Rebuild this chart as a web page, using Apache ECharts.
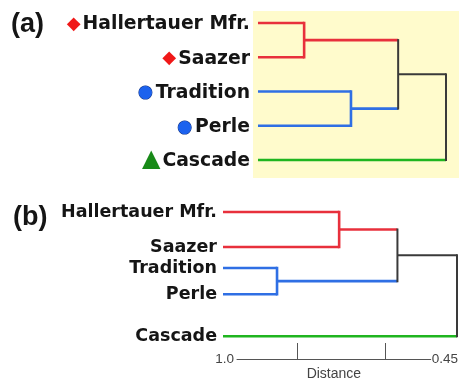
<!DOCTYPE html>
<html>
<head>
<meta charset="utf-8">
<script src="https://cdn.jsdelivr.net/npm/echarts@6/dist/echarts.min.js"></script>
<style>
  html, body { margin: 0; padding: 0; background: #ffffff; }
  #chart { width: 459px; height: 383px; }
</style>
</head>
<body>
<div id="chart"></div>
<script>
// Hop cultivars, in dendrogram leaf order (top to bottom)
const cultivars = ['Hallertauer Mfr.', 'Saazer', 'Tradition', 'Perle', 'Cascade'];
// Group of each cultivar (drives branch colour and marker shape)
const groups = ['aroma', 'aroma', 'german', 'german', 'american'];

// Vertical position of each leaf row, per panel
const rowsA = [0, 1, 2, 3, 4];
const rowsB = [0, 1, 1.6, 2.35, 3.55];

// Distance at which the leaves sit
const leafDistance = 1.0;
// Merges: [node a, node b, distance]; nodes 0-4 are leaves, 5+ are merged clusters in order
const mergesA = [[0, 1, 0.865], [2, 3, 0.728], [5, 6, 0.59], [7, 4, 0.45]];
const mergesB = [[0, 1, 0.727], [2, 3, 0.873], [5, 6, 0.59], [7, 4, 0.45]];

// Distance scale bar under panel (b)
const scaleEnds = [1.0, 0.45];
const scaleTicks = [0.83, 0.58];

const groupColor = { aroma: '#e8303c', german: '#2f6fe4', american: '#1fb51f' };
const mixedColor = '#3a3a3a';
const groupGlyph = { aroma: '\u25C6', german: '\u25CF', american: '\u25B2' };

function buildSegments(rows, merges) {
  const nodes = rows.map((y, i) => ({ d: leafDistance, y: y, color: groupColor[groups[i]] }));
  const segs = [];
  merges.forEach(([a, b, d]) => {
    const A = nodes[a], B = nodes[b];
    const color = A.color === B.color ? A.color : mixedColor;
    segs.push({ color: A.color, vertical: false, pts: [[A.d, A.y], [d, A.y]] });
    segs.push({ color: B.color, vertical: false, pts: [[B.d, B.y], [d, B.y]] });
    segs.push({ color: color, vertical: true, pts: [[d, A.y], [d, B.y]] });
    nodes.push({ d: d, y: (A.y + B.y) / 2, color: color });
  });
  // horizontals first, verticals on top so the corners close
  return segs.filter(s => !s.vertical).concat(segs.filter(s => s.vertical));
}

function toSeries(segs, axisIndex) {
  return segs.map(s => ({
    type: 'line',
    xAxisIndex: axisIndex,
    yAxisIndex: axisIndex,
    data: s.pts,
    symbol: 'none',
    silent: true,
    animation: false,
    lineStyle: {
      color: s.color,
      width: s.color === mixedColor ? 2 : 2.6,
      cap: s.vertical ? 'square' : 'butt'
    }
  }));
}

function rowIndex(rows, value) {
  return rows.findIndex(r => Math.abs(r - value) < 1e-6);
}

const labelFont = 'DejaVu Sans';
const richA = {
  t: { fontFamily: labelFont, fontWeight: 'bold', fontSize: 18.8, color: '#151515', padding: [3, 0, 0, 0] },
  aroma: { fontFamily: labelFont, fontSize: 18, color: '#f01818', padding: [3, 2, 0, 0] },
  german: { fontFamily: labelFont, fontSize: 17, color: '#1c62ee', textBorderColor: '#0d2f80', textBorderWidth: 1, padding: [3, 3, 0, 0] },
  american: { fontFamily: labelFont, fontSize: 24, color: '#188a18', padding: [0, 2, 0, 0] }
};

const chart = echarts.init(document.getElementById('chart'), null, { renderer: 'canvas' });

const hiddenAxis = {
  axisLine: { show: false }, axisTick: { show: false },
  axisLabel: { show: false }, splitLine: { show: false }
};

chart.setOption({
  animation: false,
  backgroundColor: '#ffffff',
  title: [
    { text: '(a)', left: 6, top: 6, textStyle: { fontFamily: 'Liberation Sans', fontWeight: 'bold', fontSize: 27, color: '#151515' } },
    { text: '(b)', left: 8, top: 199, textStyle: { fontFamily: 'Liberation Sans', fontWeight: 'bold', fontSize: 27, color: '#151515' } }
  ],
  grid: [
    { left: 253, top: 11, width: 206, height: 167, show: true, backgroundColor: '#fffbcc', borderWidth: 0 },
    { left: 223, top: 194.5, width: 234, height: 157.5 },
    { left: 237, top: 349, width: 196, height: 10 }
  ],
  xAxis: [
    Object.assign({ gridIndex: 0, type: 'value', min: 0.412, max: 1.0146, inverse: true }, hiddenAxis),
    Object.assign({ gridIndex: 1, type: 'value', min: 0.45, max: 1.0, inverse: true }, hiddenAxis),
    {
      gridIndex: 2, type: 'value', min: scaleEnds[1], max: scaleEnds[0], inverse: true,
      axisLine: { show: true, lineStyle: { color: '#555555', width: 1 } },
      axisTick: { show: true, inside: true, length: 16, customValues: scaleTicks, lineStyle: { color: '#555555', width: 1 } },
      axisLabel: { show: false }, splitLine: { show: false },
      name: 'Distance', nameLocation: 'middle', nameGap: 8,
      nameTextStyle: { fontFamily: 'Liberation Sans', fontSize: 14, color: '#444444' }
    },
    Object.assign({
      gridIndex: 2, type: 'value', min: 0, max: 1, position: 'bottom', offset: 0,
      name: String(scaleEnds[0].toFixed(1)), nameLocation: 'start', nameGap: 3,
      nameTextStyle: { fontFamily: 'Liberation Sans', fontSize: 13.5, color: '#444444' }
    }, hiddenAxis),
    Object.assign({
      gridIndex: 2, type: 'value', min: 0, max: 1, position: 'bottom', offset: 0,
      name: String(scaleEnds[1]), nameLocation: 'end', nameGap: 1,
      nameTextStyle: { fontFamily: 'Liberation Sans', fontSize: 13.5, color: '#444444' }
    }, hiddenAxis)
  ],
  yAxis: [
    {
      gridIndex: 0, type: 'value', min: -0.35, max: 4.526, inverse: true,
      axisLine: { show: false }, axisTick: { show: false }, splitLine: { show: false },
      axisLabel: {
        show: true, margin: 3, customValues: rowsA,
        formatter: v => {
          const i = rowIndex(rowsA, v);
          if (i < 0) return '';
          const g = groups[i];
          return '{' + g + '|' + groupGlyph[g] + '}{t|' + cultivars[i] + '}';
        },
        rich: richA
      }
    },
    {
      gridIndex: 1, type: 'value', min: -0.5, max: 4.0, inverse: true,
      axisLine: { show: false }, axisTick: { show: false }, splitLine: { show: false },
      axisLabel: {
        show: true, margin: 6, customValues: rowsB,
        fontFamily: labelFont, fontWeight: 'bold', fontSize: 17.5, color: '#151515',
        padding: [0, 0, 7, 0],
        formatter: v => {
          const i = rowIndex(rowsB, v);
          return i < 0 ? '' : cultivars[i];
        }
      }
    },
    Object.assign({ gridIndex: 2, type: 'value', show: false }, hiddenAxis)
  ],
  series: toSeries(buildSegments(rowsA, mergesA), 0)
    .concat(toSeries(buildSegments(rowsB, mergesB), 1))
});
</script>
</body>
</html>
